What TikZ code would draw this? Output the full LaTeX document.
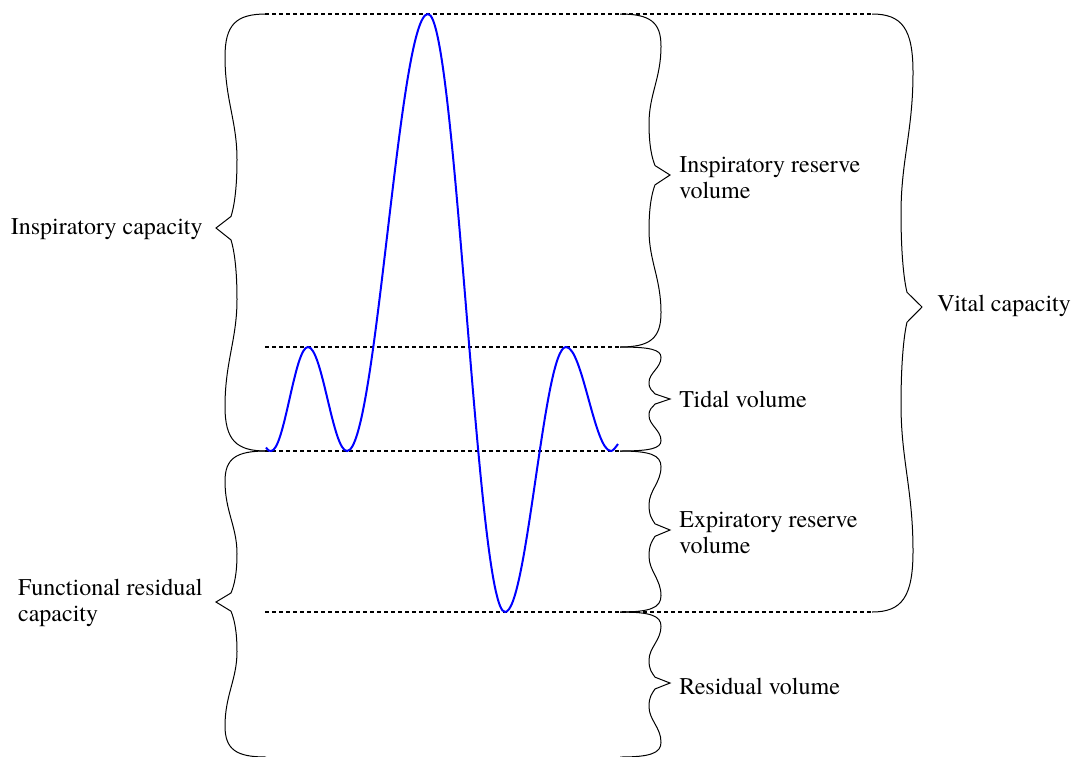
\documentclass[tikz,border=0pt]{standalone}
\usepackage{fontspec}
\setmainfont{texgyretermes-regular.otf}
\usetikzlibrary{calc}
\newcommand{\wbrace}[5]{%
 \pgfmathsetmacro\bxe{#1}%
 \pgfmathsetmacro\byt{#2}%
 \pgfmathsetmacro\byb{#3}%
 \pgfmathsetmacro\byp{#4}%
 \pgfmathsetmacro\bd{#5}%
 \pgfmathsetmacro\hA{\byp-\byt}%
 \pgfmathsetmacro\hB{\byb-\byp}%
 \pgfmathsetmacro\kA{0.04*\hA+3}%
 \pgfmathsetmacro\kB{0.04*\hB+3}%
 \draw[bracestyle] (\bxe,\byt)
   .. controls ({\bxe+\bd*30},\byt) and ({\bxe+\bd*41},{\byt+0.05*\hA}) .. ({\bxe+\bd*41},{\byt+0.2*\hA})
   .. controls ({\bxe+\bd*41},{\byt+0.4*\hA}) and ({\bxe+\bd*29},{\byt+0.5*\hA}) .. ({\bxe+\bd*29},{\byt+0.68*\hA})
   .. controls ({\bxe+\bd*29},{\byt+0.82*\hA}) and ({\bxe+\bd*32},{\byp-1.8*\kA}) .. ({\bxe+\bd*35},{\byp-\kA})
   -- ({\bxe+\bd*50},\byp)
   -- ({\bxe+\bd*35},{\byp+\kB})
   .. controls ({\bxe+\bd*32},{\byp+1.8*\kB}) and ({\bxe+\bd*29},{\byp+0.18*\hB}) .. ({\bxe+\bd*29},{\byp+0.32*\hB})
   .. controls ({\bxe+\bd*29},{\byp+0.5*\hB}) and ({\bxe+\bd*41},{\byp+0.6*\hB}) .. ({\bxe+\bd*41},{\byp+0.8*\hB})
   .. controls ({\bxe+\bd*41},{\byp+0.95*\hB}) and ({\bxe+\bd*30},\byb) .. (\bxe,\byb);
}
\tikzset{
  bracestyle/.style={draw=black, line width=0.5pt},
  level/.style={draw=black, line width=0.6pt, dash pattern=on 2pt off 1.5pt},
  trace/.style={draw=blue, line width=1pt},
  lbl/.style={inner sep=0pt, font=\fontsize{12}{13}\selectfont, align=left}
}
\begin{document}
\begin{tikzpicture}[x=0.5pt, y=-0.5pt]
\useasboundingbox (0,0) rectangle (1074,756);
\clip (0,0) rectangle (1074,756);
% level lines
\coordinate (l1a) at (265,14);  \coordinate (l1b) at (872,14);
\coordinate (l2a) at (265,347); \coordinate (l2b) at (620,347);
\coordinate (l3a) at (265,451); \coordinate (l3b) at (620,451);
\coordinate (l4a) at (265,612); \coordinate (l4b) at (872,612);
\draw[level] (l1a) -- (l1b);
\draw[level] (l2a) -- (l2b);
\draw[level] (l3a) -- (l3b);
\draw[level] (l4a) -- (l4b);
% braces
\wbrace{266}{14}{451}{228}{-1}
\wbrace{266}{451}{757}{602}{-1}
\wbrace{620}{14}{347}{175}{1}
\wbrace{620}{347}{451}{399}{1}
\wbrace{620}{451}{612}{530}{1}
\wbrace{620}{612}{757}{683}{1}
\wbrace{872}{14}{612}{307}{1}
% trace
\coordinate (s0) at (266,447.5);
\coordinate (t1) at (271,451);
\coordinate (p1) at (308,347);
\coordinate (t2) at (347,451);
\coordinate (p2) at (428,14);
\coordinate (t3) at (505,612);
\coordinate (p3) at (566,347);
\coordinate (t4) at (611,451);
\coordinate (e0) at (618,444);
\draw[trace] (s0) .. controls (268.5,451) and (269.5,451) .. (t1)
  cos ($(t1)!0.5!(p1)$) sin (p1)
  cos ($(p1)!0.5!(t2)$) sin (t2)
  cos ($(t2)!0.5!(p2)$) sin (p2)
  cos ($(p2)!0.5!(t3)$) sin (t3)
  cos ($(t3)!0.5!(p3)$) sin (p3)
  cos ($(p3)!0.5!(t4)$) sin (t4)
  .. controls (613,451) and (615,448) .. (e0);
% labels
\node[lbl, anchor=east] (ic) at (203,229) {Inspiratory capacity};
\node[lbl, anchor=east] (frc) at (203,603) {Functional residual\\capacity};
\node[lbl, anchor=west] (irv) at (679,178) {Inspiratory reserve\\volume};
\node[lbl, anchor=west] (tv) at (679,399) {Tidal volume};
\node[lbl, anchor=west] (erv) at (679,533) {Expiratory reserve\\volume};
\node[lbl, anchor=west] (rv) at (679,686) {Residual volume};
\node[lbl, anchor=west] (vc) at (937,306) {Vital capacity};
\end{tikzpicture}
\end{document}
